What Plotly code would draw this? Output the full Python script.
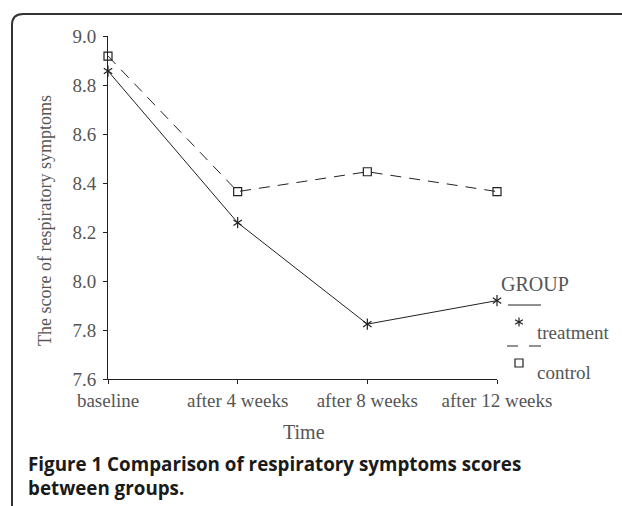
import plotly.graph_objects as go

categories = ["baseline", "after 4 weeks", "after 8 weeks", "after 12 weeks"]
treatment = [8.857, 8.238, 7.824, 7.92]
control = [8.918, 8.365, 8.446, 8.365]
y_ticks = [7.6, 7.8, 8.0, 8.2, 8.4, 8.6, 8.8, 9.0]
y_ticklabels = [f"{v:.1f}" for v in y_ticks]

W, H = 622, 506
L, R, T, B = 108, 497, 36, 379  # plot area in pixels

def px(x):
    return (x - L) / (R - L)

def py(y):
    return (B - y) / (B - T)

SERIF = "Liberation Serif"
GRAY = "#555555"
INK = "#222222"

fig = go.Figure()
xs = list(range(len(categories)))
fig.add_trace(go.Scatter(x=xs, y=control, mode="lines+markers",
                         line=dict(color=INK, width=1, dash="11px,8px"),
                         marker=dict(symbol="square-open", size=8, color=INK, line=dict(width=1.2)),
                         cliponaxis=False, showlegend=False))
fig.add_trace(go.Scatter(x=xs, y=treatment, mode="lines+markers",
                         line=dict(color=INK, width=1),
                         marker=dict(symbol="y-up-open", size=7, color=INK, line=dict(width=1.2, color=INK)),
                         cliponaxis=False, showlegend=False))
fig.add_trace(go.Scatter(x=xs, y=treatment, mode="markers",
                         marker=dict(symbol="y-down-open", size=7, color=INK, line=dict(width=1.2, color=INK)),
                         cliponaxis=False, showlegend=False, hoverinfo="skip"))

# legend key symbols drawn as shapes (pixel positions -> paper)
sx, sy, r = 519, 322, 4.5
sq_x, sq_y, s = 519, 363, 4
shapes = [
    # frame with rounded top-left corner
    dict(type="path", xref="paper", yref="paper",
         path=f"M {px(12)},{py(506)} L {px(12)},{py(25)} Q {px(12)},{py(14)} {px(23)},{py(14)} L {px(622)},{py(14)}",
         line=dict(color="#333333", width=2)),
    # legend line samples
    dict(type="line", xref="paper", yref="paper", x0=px(508), x1=px(541), y0=py(305), y1=py(305),
         line=dict(color=INK, width=1)),
    dict(type="line", xref="paper", yref="paper", x0=px(507), x1=px(518), y0=py(346), y1=py(346),
         line=dict(color=INK, width=1)),
    dict(type="line", xref="paper", yref="paper", x0=px(529), x1=px(541), y0=py(346), y1=py(346),
         line=dict(color=INK, width=1)),
    # asterisk key
    dict(type="line", xref="paper", yref="paper", x0=px(sx), x1=px(sx), y0=py(sy - r), y1=py(sy + r),
         line=dict(color=INK, width=1.2)),
    dict(type="line", xref="paper", yref="paper", x0=px(sx - r * 0.87), x1=px(sx + r * 0.87),
         y0=py(sy - r * 0.5), y1=py(sy + r * 0.5), line=dict(color=INK, width=1.2)),
    dict(type="line", xref="paper", yref="paper", x0=px(sx - r * 0.87), x1=px(sx + r * 0.87),
         y0=py(sy + r * 0.5), y1=py(sy - r * 0.5), line=dict(color=INK, width=1.2)),
    # square key
    dict(type="rect", xref="paper", yref="paper", x0=px(sq_x - s), x1=px(sq_x + s),
         y0=py(sq_y - s), y1=py(sq_y + s), line=dict(color=INK, width=1.2)),
]

annotations = [
    dict(text="GROUP", x=px(499), y=py(284), xref="paper", yref="paper", xanchor="left", yanchor="middle",
         showarrow=False, font=dict(family=SERIF, size=20, color=GRAY)),
    dict(text="treatment", x=px(535), y=py(332), xref="paper", yref="paper", xanchor="left", yanchor="middle",
         showarrow=False, font=dict(family=SERIF, size=19, color=GRAY)),
    dict(text="control", x=px(535), y=py(372), xref="paper", yref="paper", xanchor="left", yanchor="middle",
         showarrow=False, font=dict(family=SERIF, size=19, color=GRAY)),
    dict(text="Time", x=px(304), y=py(432), xref="paper", yref="paper", xanchor="center", yanchor="middle",
         showarrow=False, font=dict(family=SERIF, size=20, color=GRAY)),
    dict(text="The score of respiratory symptoms", x=px(45), y=py(221), xref="paper", yref="paper",
         xanchor="center", yanchor="middle", textangle=-90,
         showarrow=False, font=dict(family=SERIF, size=18, color=GRAY)),
    dict(text="<b>Figure 1 Comparison of respiratory symptoms scores<br>between groups.</b>",
         x=px(26), y=py(476), xref="paper", yref="paper", xanchor="left", yanchor="middle", align="left",
         showarrow=False, font=dict(family="Open Sans", size=18.8, color="#1a1a1a")),
]

fig.update_layout(
    width=W, height=H,
    margin=dict(l=L, r=W - R, t=T, b=H - B),
    paper_bgcolor="white", plot_bgcolor="white",
    showlegend=False,
    shapes=shapes, annotations=annotations,
    xaxis=dict(range=[0, 3], tickmode="array", tickvals=xs, ticktext=categories,
               showline=True, linecolor=INK, linewidth=1, showgrid=False, zeroline=False,
               ticks="outside", ticklen=4, tickcolor=INK,
               tickfont=dict(family=SERIF, size=19, color=GRAY)),
    yaxis=dict(range=[7.6, 9.0], tickmode="array", tickvals=y_ticks, ticktext=y_ticklabels,
               showline=True, linecolor=INK, linewidth=1, showgrid=False, zeroline=False,
               ticks="outside", ticklen=4, tickcolor=INK, ticklabelstandoff=3,
               tickfont=dict(family=SERIF, size=19, color=GRAY)),
)

fig.write_html("out.html", config={"displayModeBar": False},
               post_script="document.body.style.margin='0';document.body.style.overflow='hidden';")
